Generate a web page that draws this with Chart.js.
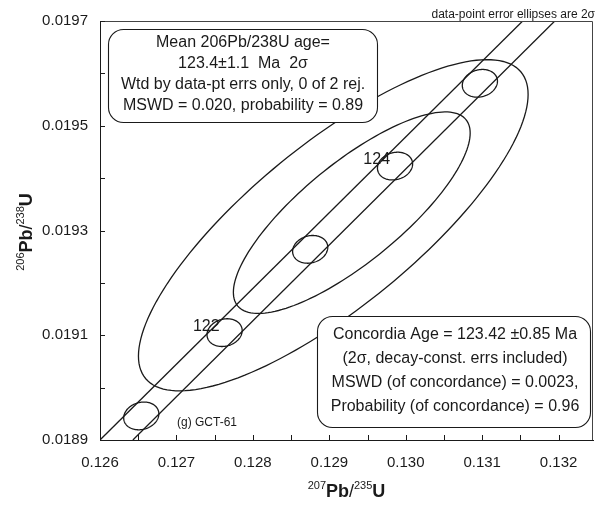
<!DOCTYPE html>
<html>
<head>
<meta charset="utf-8">
<script src="https://cdn.jsdelivr.net/npm/chart.js@4.4.0/dist/chart.umd.min.js"></script>
<style>
html, body { margin: 0; padding: 0; background: #fff; }
</style>
</head>
<body>
<canvas id="concordiaChart" width="602" height="506"></canvas>
<script>
// concordia band edges (207Pb/235U vs 206Pb/238U)
const bandUpperX = [0.12600, 0.13153];
const bandUpperY = [0.01890, 0.01970];
const bandLowerX = [0.12643, 0.13195];
const bandLowerY = [0.01890, 0.01970];

// age markers along the concordia (Ma) and their error ellipses
const markerAges = [121, 122, 123, 124, 125];
const markerX = [0.12654, 0.12763, 0.12875, 0.12986, 0.13097];
const markerY = [0.018946, 0.019105, 0.019264, 0.019423, 0.019581];
const markerErrX = 0.00023;
const markerErrY = 0.0000265;
const markerRho = 0.15;
const labeledAges = [122, 124];

// data-point error ellipses (2 sigma)
const spotX = [0.129052, 0.129294];
const spotY = [0.019310, 0.019334];
const spotErrX = [0.002549, 0.001549];
const spotErrY = [0.0003162, 0.0001924];
const spotRho = [0.79, 0.79];

// tick labels
const xTickLabels = ['0.126', '0.127', '0.128', '0.129', '0.130', '0.131', '0.132'];
const yTickLabels = ['0.0189', '0.0191', '0.0193', '0.0195', '0.0197'];

const box1Lines = ['Mean 206Pb/238U age=', '123.4\u00b11.1  Ma  2\u03c3', 'Wtd by data-pt errs only, 0 of 2 rej.', 'MSWD = 0.020, probability = 0.89'];
const box2Lines = ['Concordia Age = 123.42 \u00b10.85 Ma', '(2\u03c3, decay-const. errs included)', 'MSWD (of concordance) = 0.0023,', 'Probability (of concordance) = 0.96'];

const FONT = "'Liberation Sans', Arial, Helvetica, sans-serif";
const INK = '#1a1a1a';

function ellipsePath(ctx, xs, ys, cx, cy, sx, sy, rho) {
  const n = 160;
  const k = Math.sqrt(1 - rho * rho);
  ctx.beginPath();
  for (let i = 0; i <= n; i++) {
    const t = 2 * Math.PI * i / n;
    const px = xs.getPixelForValue(cx + sx * Math.cos(t));
    const py = ys.getPixelForValue(cy + sy * (rho * Math.cos(t) + k * Math.sin(t)));
    if (i === 0) ctx.moveTo(px, py); else ctx.lineTo(px, py);
  }
  ctx.closePath();
}

function roundBox(ctx, x1, y1, x2, y2, r) {
  ctx.beginPath();
  ctx.moveTo(x1 + r, y1);
  ctx.arcTo(x2, y1, x2, y2, r);
  ctx.arcTo(x2, y2, x1, y2, r);
  ctx.arcTo(x1, y2, x1, y1, r);
  ctx.arcTo(x1, y1, x2, y1, r);
  ctx.closePath();
  ctx.fillStyle = '#fff';
  ctx.fill();
  ctx.strokeStyle = INK;
  ctx.lineWidth = 1.1;
  ctx.stroke();
}

// isotope-ratio title with superscripts, centred on (0,0) baseline
function isotopeTitle(ctx, parts) {
  const big = 'bold 18px ' + FONT;
  const slash = '18px ' + FONT;
  const sup = '11px ' + FONT;
  let total = 0;
  parts.forEach(p => {
    ctx.font = p.sup ? sup : (p.t === '/' ? slash : big);
    p.w = ctx.measureText(p.t).width;
    total += p.w;
  });
  let x = -total / 2;
  ctx.textAlign = 'left';
  ctx.textBaseline = 'alphabetic';
  parts.forEach(p => {
    ctx.font = p.sup ? sup : (p.t === '/' ? slash : big);
    ctx.fillText(p.t, x, p.sup ? -8 : 0);
    x += p.w;
  });
}

const overlay = {
  id: 'overlay',
  afterDatasetsDraw(chart) {
    const ctx = chart.ctx;
    const xs = chart.scales.x, ys = chart.scales.y;
    const a = chart.chartArea;

    ctx.save();
    ctx.beginPath();
    ctx.rect(a.left, a.top, a.right - a.left, a.bottom - a.top);
    ctx.clip();
    ctx.strokeStyle = INK;
    ctx.lineWidth = 1.3;
    for (let i = 0; i < spotX.length; i++) {
      ellipsePath(ctx, xs, ys, spotX[i], spotY[i], spotErrX[i], spotErrY[i], spotRho[i]);
      ctx.stroke();
    }
    for (let i = 0; i < markerAges.length; i++) {
      ellipsePath(ctx, xs, ys, markerX[i], markerY[i], markerErrX, markerErrY, markerRho);
      ctx.stroke();
    }
    ctx.restore();

    ctx.save();
    ctx.fillStyle = INK;
    ctx.font = '16px ' + FONT;
    ctx.textAlign = 'right';
    ctx.textBaseline = 'middle';
    markerAges.forEach((age, i) => {
      if (labeledAges.includes(age)) {
        ctx.fillText(String(age), xs.getPixelForValue(markerX[i]) - 5, ys.getPixelForValue(markerY[i]) - 6);
      }
    });

    // frame top and right
    ctx.strokeStyle = '#444';
    ctx.lineWidth = 1;
    ctx.beginPath();
    ctx.moveTo(a.left, a.top + 0.5);
    ctx.lineTo(a.right - 0.5, a.top + 0.5);
    ctx.lineTo(a.right - 0.5, a.bottom);
    ctx.stroke();

    // inward ticks
    ctx.strokeStyle = INK;
    ctx.beginPath();
    xs.ticks.forEach(t => {
      if (t.value < xs.min - 1e-9 || t.value > xs.max + 1e-9) return;
      const px = Math.round(xs.getPixelForValue(t.value)) + 0.5;
      ctx.moveTo(px, a.bottom);
      ctx.lineTo(px, a.bottom - 5);
    });
    ys.ticks.forEach(t => {
      if (t.value < ys.min - 1e-9 || t.value > ys.max + 1e-9) return;
      const py = Math.round(ys.getPixelForValue(t.value)) + 0.5;
      ctx.moveTo(a.left, py);
      ctx.lineTo(a.left + 5, py);
    });
    ctx.stroke();

    // text boxes
    roundBox(ctx, 108.5, 29.5, 377.5, 122.5, 15);
    ctx.fillStyle = INK;
    ctx.font = '16px ' + FONT;
    ctx.textAlign = 'center';
    ctx.textBaseline = 'middle';
    box1Lines.forEach((s, i) => ctx.fillText(s, 243, 43 + i * 20.7));

    roundBox(ctx, 317.5, 316.5, 590.5, 427.5, 15);
    ctx.fillStyle = INK;
    box2Lines.forEach((s, i) => ctx.fillText(s, 455, 335 + i * 24));

    ctx.font = '12px ' + FONT;
    ctx.textAlign = 'left';
    ctx.fillText('(g) GCT-61', 177, 423);
    ctx.textAlign = 'right';
    ctx.textBaseline = 'alphabetic';
    ctx.fillText('data-point error ellipses are 2\u03c3', 595, 18);

    // axis titles
    ctx.save();
    ctx.translate((a.left + a.right) / 2, 497);
    isotopeTitle(ctx, [{t: '207', sup: true}, {t: 'Pb'}, {t: '/'}, {t: '235', sup: true}, {t: 'U'}]);
    ctx.restore();
    ctx.save();
    ctx.translate(32, 232);
    ctx.rotate(-Math.PI / 2);
    isotopeTitle(ctx, [{t: '206', sup: true}, {t: 'Pb'}, {t: '/'}, {t: '238', sup: true}, {t: 'U'}]);
    ctx.restore();

    ctx.restore();
  }
};

function toPoints(xv, yv) {
  return xv.map((x, i) => ({x: x, y: yv[i]}));
}

const ctx = document.getElementById('concordiaChart').getContext('2d');

const myChart = new Chart(ctx, {
  type: 'scatter',
  data: {
    datasets: [{
      label: 'Concordia band (upper)',
      data: toPoints(bandUpperX, bandUpperY),
      showLine: true,
      borderColor: INK,
      borderWidth: 1.3,
      pointRadius: 0
    }, {
      label: 'Concordia band (lower)',
      data: toPoints(bandLowerX, bandLowerY),
      showLine: true,
      borderColor: INK,
      borderWidth: 1.3,
      pointRadius: 0
    }]
  },
  options: {
    responsive: false,
    animation: false,
    devicePixelRatio: 1,
    layout: { padding: { left: 0, right: 9, top: 20, bottom: 0 } },
    plugins: {
      legend: { display: false },
      tooltip: { enabled: false }
    },
    scales: {
      x: {
        type: 'linear',
        min: 0.126,
        max: 0.13245,
        afterFit: s => { s.height = 66; },
        border: { display: true, color: INK, width: 1 },
        grid: { display: true, drawOnChartArea: false, drawTicks: false },
        ticks: {
          stepSize: 0.0005,
          includeBounds: false,
          autoSkip: false,
          maxRotation: 0,
          padding: 14,
          color: INK,
          font: { family: FONT, size: 15 },
          callback: v => {
            const s = v.toFixed(3);
            return (Math.abs(v - parseFloat(s)) < 1e-7 && xTickLabels.includes(s)) ? s : '';
          }
        }
      },
      y: {
        type: 'linear',
        min: 0.0189,
        max: 0.0197,
        afterFit: s => { s.width = 100; },
        border: { display: true, color: INK, width: 1 },
        grid: { display: true, drawOnChartArea: false, drawTicks: false },
        ticks: {
          stepSize: 0.0001,
          includeBounds: false,
          autoSkip: false,
          padding: 12,
          color: INK,
          font: { family: FONT, size: 15 },
          callback: v => {
            const s = v.toFixed(4);
            return (Math.abs(v - parseFloat(s)) < 1e-8 && yTickLabels.includes(s)) ? s : '';
          }
        }
      }
    }
  },
  plugins: [overlay]
});
</script>
</body>
</html>
